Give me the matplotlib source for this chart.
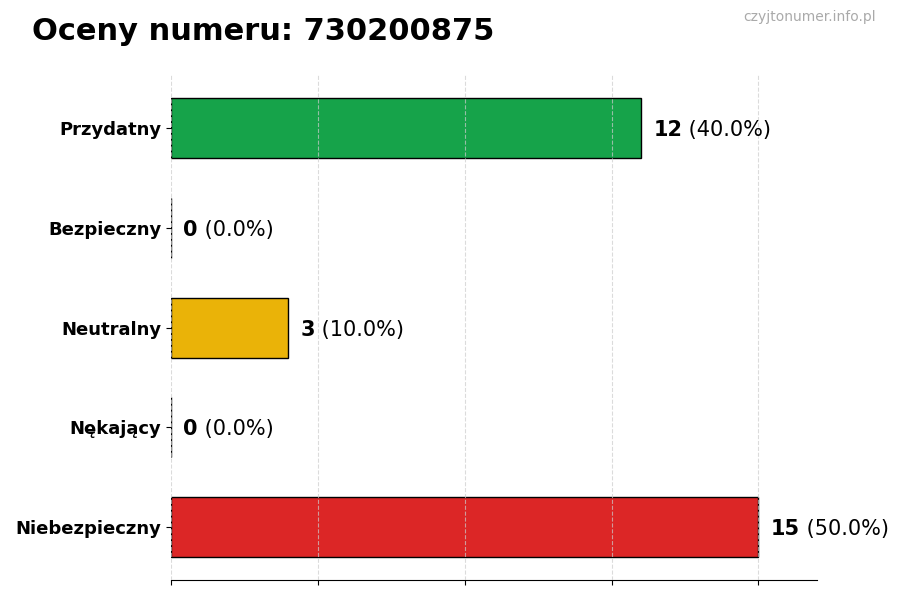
import matplotlib
matplotlib.use("Agg")
import numpy as np
import matplotlib.pyplot as plt

# data (top to bottom)
categories = ["Przydatny", "Bezpieczny", "Neutralny", "Nękający", "Niebezpieczny"]
counts = [12, 0, 3, 0, 15]
colors = ["#16a34a", "#22c55e", "#eab308", "#f97316", "#dc2626"]
number = "730200875"

total = sum(counts)
ypos = np.arange(len(categories))[::-1]

fig = plt.figure(figsize=(9, 6), dpi=100)
ax = fig.add_axes([0.19, 0.033, 0.718, 0.842])

ax.barh(ypos, counts, height=0.6, color=colors, edgecolor="black", linewidth=1)

xmax = max(counts) * 1.1
ax.set_xlim(0, xmax)
ax.set_xticks(np.linspace(0, max(counts), 5))
ax.set_xticklabels([])
ax.grid(axis="x", linestyle="--", color="#cccccc", alpha=0.7)
ax.set_axisbelow(False)

ax.set_yticks(ypos)
ax.set_yticklabels(categories, fontsize=13, fontweight="bold")

for s in ["top", "right", "left"]:
    ax.spines[s].set_visible(False)

for y, c in zip(ypos, counts):
    pct = c / total * 100
    t = ax.annotate(f"{c}", (c, y), xytext=(9, 0), textcoords="offset points",
                    va="center_baseline", ha="left", fontsize=15, fontweight="bold")
    ax.annotate(f" ({pct:.1f}%)", xy=(1, 0), xycoords=t,
                va="bottom", ha="left", fontsize=15)

fig.text(0.035, 0.948, f"Oceny numeru: {number}", fontsize=22, fontweight="bold",
         va="center", ha="left")
fig.text(0.973, 0.971, "czyjtonumer.info.pl", fontsize=10, color="#aaaaaa",
         va="center", ha="right")

fig.savefig("out.png", dpi=100)
